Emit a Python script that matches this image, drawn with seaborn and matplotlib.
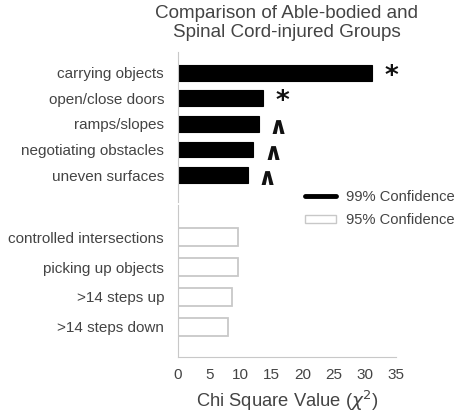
import pandas as pd
import matplotlib.pyplot as plt
import seaborn as sns
from matplotlib.lines import Line2D
from matplotlib.patches import Patch

sns.set_style("white")
plt.rcParams['font.family'] = ['Liberation Sans', 'DejaVu Sans']

# Datos
actividades_99 = ['carrying objects', 'open/close doors', 'ramps/slopes',
                  'negotiating obstacles', 'uneven surfaces']
chi_99 = [31.1, 13.6, 13.0, 12.1, 11.2]
marcas_99 = ['*', '*', '\u2227', '\u2227', '\u2227']

actividades_95 = ['controlled intersections', 'picking up objects',
                  '>14 steps up', '>14 steps down']
chi_95 = [9.7, 9.6, 8.6, 8.0]

xticks = [0, 5, 10, 15, 20, 25, 30, 35]

df99 = pd.DataFrame({'actividad': actividades_99, 'chi': chi_99})
df95 = pd.DataFrame({'actividad': actividades_95, 'chi': chi_95})

gris_eje = '#c8c8c8'
gris_txt = '#444444'

fig = plt.figure(figsize=(4.61, 4.15), dpi=100)
ax1 = fig.add_axes([0.386, 0.513, 0.473, 0.362])
ax2 = fig.add_axes([0.386, 0.140, 0.473, 0.366])

sns.barplot(data=df99, x='chi', y='actividad', ax=ax1, color='black',
            width=0.62, edgecolor='black', linewidth=0.8)
sns.barplot(data=df95, x='chi', y='actividad', ax=ax2, color='white',
            width=0.62, edgecolor=gris_eje, linewidth=1.3)

# Marcas de significancia
for i, (v, m) in enumerate(zip(chi_99, marcas_99)):
    if m == '*':
        ax1.text(v + 2.1, i + 0.16, m, fontsize=19, fontweight='bold',
                 ha='left', va='center', color='#111111', family=['DejaVu Sans'])
    else:
        ax1.text(v + 1.6, i + 0.12, m, fontsize=17, fontweight='bold',
                 ha='left', va='center', color='#111111', family=['DejaVu Sans'])

ax1.set_ylim(4 + 1.06, -0.82)
ax2.set_ylim(4.0, -1.07)

for ax in (ax1, ax2):
    ax.set_xlim(0, 35)
    ax.set_ylabel('')
    ax.set_xlabel('')
    for s in ['top', 'right']:
        ax.spines[s].set_visible(False)
    ax.spines['left'].set_color(gris_eje)
    ax.spines['bottom'].set_color(gris_eje)
    ax.tick_params(axis='y', length=0, labelsize=11, labelcolor=gris_txt, pad=10)

ax1.spines['bottom'].set_visible(False)
ax1.set_xticks([])

ax2.set_xticks(xticks)
ax2.tick_params(axis='x', direction='in', length=3, color=gris_eje,
                labelsize=11, labelcolor=gris_txt, pad=8)
ax2.set_xlabel('Chi Square Value ($\\chi^2$)', fontsize=13.2, color=gris_txt, labelpad=5)

ax1.set_title('Comparison of Able-bodied and\nSpinal Cord-injured Groups',
              fontsize=13.6, color=gris_txt, pad=11, linespacing=1.15)

handles = [Line2D([0], [0], color='black', lw=3.5),
           Patch(facecolor='white', edgecolor=gris_eje, linewidth=1)]
fig.legend(handles, ['99% Confidence', '95% Confidence'],
           loc='upper left', bbox_to_anchor=(0.632, 0.575), frameon=False,
           fontsize=10.6, labelcolor=gris_txt, handlelength=2.1,
           handleheight=0.45, labelspacing=0.65, handletextpad=0.7)

plt.savefig('out.png', dpi=100)
